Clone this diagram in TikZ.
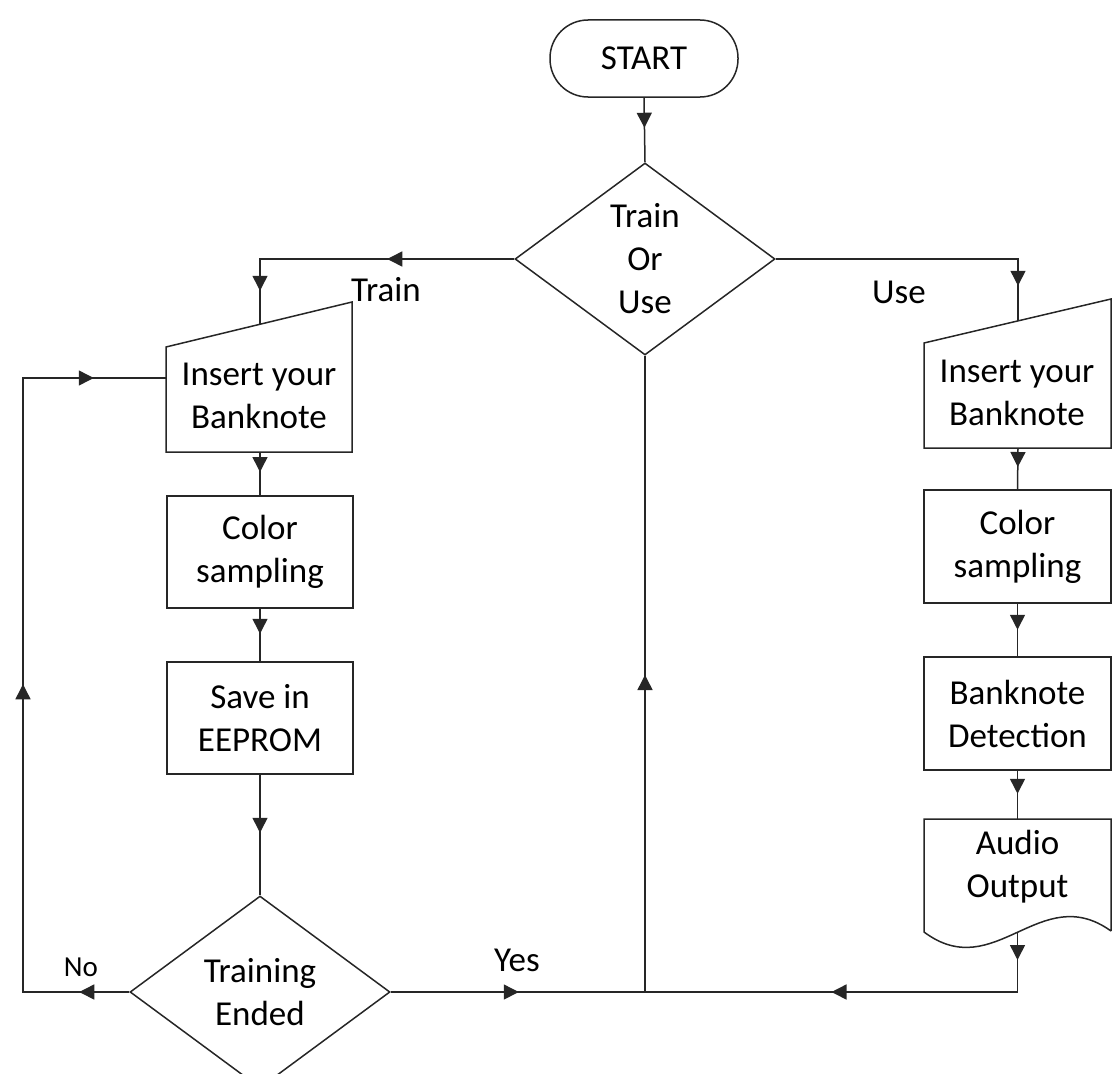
\documentclass[tikz,border=0pt]{standalone}
\usepackage{fontspec}
\setmainfont{Carlito}
\usetikzlibrary{arrows.meta,decorations.markings,shapes.geometric}
\begin{document}
\begin{tikzpicture}[x=1pt,y=-1pt,
  every node/.style={font=\fontsize{35}{43}\selectfont, text=black},
  ln/.style={draw=black!85, line width=1.5pt},
  ma/.style={postaction={decorate,decoration={markings,mark=at position #1 with {\arrow{Triangle[length=15pt,width=15pt]}}}}},
  box/.style={ln, rectangle, minimum width=186pt, minimum height=112pt, inner sep=0pt, align=center},
  dia/.style={ln, diamond, minimum width=260pt, minimum height=192pt, inner sep=0pt},
  txt/.style={align=center, inner sep=0pt},
  lbl/.style={inner sep=0pt, anchor=base}]
\useasboundingbox (0,0) rectangle (1115,1073);
\clip (0,0) rectangle (1115,1073);

% start and first decision
\node[ln, rounded corners=38pt, minimum width=188pt, minimum height=77pt, inner sep=0pt] (start) at (644,58.5) {START};
\node[dia] (d1) at (645,259) {};
\node[txt] (t1) at (d1) {Train\\Or\\Use};

% left manual input
\draw[ln] (166,347) -- (352,302) -- (352,452) -- (166,452) -- cycle;
\coordinate (inLt) at (260,324.3);
\coordinate (inLb) at (260,452);
\coordinate (inLw) at (166,378);
\node[txt] (inLtxt) at (259,396) {Insert your\\Banknote};

% right manual input
\draw[ln] (924,343) -- (1111,299) -- (1111,448) -- (924,448) -- cycle;
\coordinate (inRt) at (1018,320.9);
\coordinate (inRb) at (1018,448);
\node[txt] (inRtxt) at (1017,393) {Insert your\\Banknote};

% left column
\node[box] (colL) at (260,552) {Color\\sampling};
\node[box] (saveL) at (260,718) {Save in\\EEPROM};
\node[dia] (d2) at (260,992) {};
\node[txt] (t2) at (d2) {Training\\Ended};

% right column
\node[box, minimum width=187pt, minimum height=113pt] (colR) at (1017.5,546.5) {Color\\sampling};
\node[box, minimum width=187pt, minimum height=113pt] (detR) at (1017.5,713.5) {Banknote\\Detection};
\draw[ln] (1111,931) -- (1111,819) -- (924,819) -- (924,932) .. controls (995,985) and (1040,880) .. (1111,931);
\coordinate (audT) at (1017.5,819);
\coordinate (audB) at (1017.5,932);
\node[txt] (audtxt) at (1017.5,867) {Audio\\Output};

\coordinate (join) at (645,992);
\coordinate (lpc) at (23,992);

% connectors
\draw[ln, ma=30pt] (start.south) -- (d1.north);
\draw[ln, ma=127pt, ma=286pt] (d1.west) -| (inLt);
\draw[ln, ma=269pt] (d1.east) -| (inRt);
\draw[ln, ma=20pt] (inLb) -- (colL.north);
\draw[ln, ma=25pt] (colL.south) -- (saveL.north);
\draw[ln, ma=58pt] (saveL.south) -- (d2.north);
\draw[ln, ma=19pt] (inRb) -- (colR.north);
\draw[ln, ma=26pt] (colR.south) -- (detR.north);
\draw[ln, ma=23pt] (detR.south) -- (audT);
\draw[ln, ma=28pt, ma=246pt] (audB) |- (join);
\draw[ln, ma=128pt] (d2.east) -- (join);
\draw[ln, ma=317pt] (join) -- (d1.south);
\draw[ln, ma=50pt, ma=414pt, ma=791pt] (d2.west) -- (lpc) |- (inLw);

% labels
\node[lbl] (lTrain) at (386,301) {Train};
\node[lbl] (lUse) at (899,303) {Use};
\node[lbl] (lYes) at (517,971) {Yes};
\node[lbl, font=\fontsize{29}{35}\selectfont] (lNo) at (81,976) {No};
\end{tikzpicture}
\end{document}
